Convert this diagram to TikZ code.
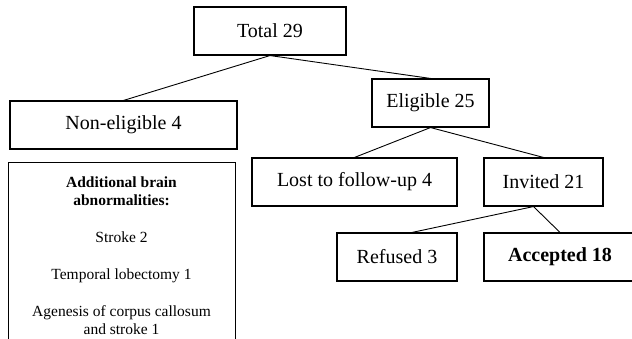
\documentclass[tikz,border=0pt]{standalone}
\usepackage{fontspec}
\setmainfont{Liberation Serif}
\usetikzlibrary{positioning}

\begin{document}
\begin{tikzpicture}[x=1pt, y=-1pt,
	box/.style={draw, line width=1.1pt, inner sep=0pt, font=\fontsize{20}{24}\selectfont},
	link/.style={line width=0.9pt}]
	\useasboundingbox (0,0) rectangle (632,339);
	\clip (0,0) rectangle (632,339);
	
	\pgfmathsetmacro{\boxh}{48}
	\node[box, minimum width=152, minimum height=\boxh] (total) at (270,31) {Total 29};
	\node[box, minimum width=227, minimum height=\boxh] (nonelig) at (123.5,125) {Non-eligible 4};
	\node[box, minimum width=117, minimum height=\boxh] (elig) at (430.5,103) {Eligible 25};
	
	\node[box, minimum width=205, minimum height=\boxh] (lost) at (354.5,182) {Lost to follow-up 4};
	\node[box, minimum width=119, minimum height=\boxh] (invited) at (543.5,182) {Invited 21};
	
	\node[box, minimum width=120, minimum height=\boxh] (refused) at (397,257) {Refused 3};
	\node[box, minimum width=152, minimum height=\boxh, font=\fontsize{20}{24}\selectfont\bfseries] (accepted) at (560,257) {Accepted 18};
	
	% box with the brain abnormalities, runs off the bottom
	\node[box, minimum width=227, minimum height=200, anchor=north west] (extra) at (8,162) {};
	\node[inner sep=0pt, align=center, anchor=north, font=\fontsize{15.5}{18}\selectfont] (extratext) at (121.5,176.5)
		{\textbf{Additional brain}\\\textbf{abnormalities:}\\[19pt]
		 Stroke 2\\[19pt]
		 Temporal lobectomy 1\\[19pt]
		 Agenesis of corpus callosum\\and stroke 1};
	
	\draw[link] (total.south) -- (nonelig.north);
	\draw[link] (total.south) -- (elig.north);
	\draw[link] (elig.south) -- (lost.north);
	\draw[link] (elig.south) -- (invited.north);
	\draw[link] ([xshift=-10pt]invited.south) -- ([xshift=15pt]refused.north);
	\draw[link] ([xshift=-10pt]invited.south) -- (accepted.north);
\end{tikzpicture}
\end{document}
